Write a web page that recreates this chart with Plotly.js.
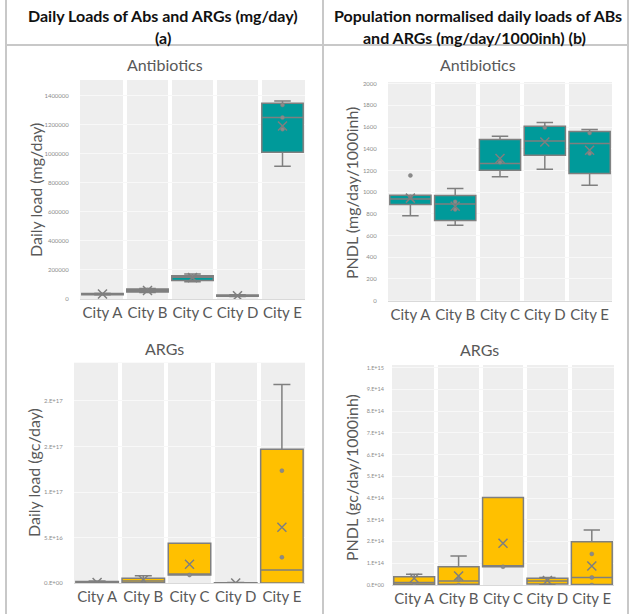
<!DOCTYPE html>
<html>
<head>
<meta charset="utf-8">
<script src="https://cdn.plot.ly/plotly-3.0.1.min.js"></script>
<style>html,body{margin:0;padding:0;background:#fff;}#chart{width:631px;height:614px;}</style>
</head>
<body>
<div id="chart"></div>
<script>
// ---------- data ----------
const cities = ['City A', 'City B', 'City C', 'City D', 'City E'];

// (a) Antibiotics daily load, mg/day
const abDailyQ1     = [30000, 48000, 127000, 19000, 1010000];
const abDailyMedian = [34000, 58000, 150000, 23000, 1249000];
const abDailyQ3     = [38000, 68000, 160000, 28000, 1348000];
const abDailyLow    = [28000, 44000, 119000, 17000, 914000];
const abDailyHigh   = [40000, 72000, 172000, 30000, 1364000];
const abDailyMean   = [35000, 58000, 147000, 23000, 1191000];
const abDailyPtsX   = ['City B', 'City C', 'City E', 'City E', 'City E'];
const abDailyPtsY   = [62000, 153000, 1336000, 1249000, 1169000];

// (b) Antibiotics PNDL, mg/day/1000inh
const abPndlQ1     = [887, 740, 1202, 1340, 1172];
const abPndlMedian = [936, 890, 1264, 1472, 1448];
const abPndlQ3     = [972, 970, 1485, 1607, 1558];
const abPndlLow    = [782, 696, 1141, 1211, 1064];
const abPndlHigh   = [972, 1034, 1515, 1641, 1577];
const abPndlMean   = [945, 871, 1310, 1463, 1386];
const abPndlPtsX   = ['City A', 'City A', 'City B', 'City B', 'City C', 'City D', 'City E', 'City E'];
const abPndlPtsY   = [1154, 957, 911, 841, 1275, 1595, 1545, 1356];

// (a) ARGs daily load, gc/day
const argDailyQ1     = [0.2e15, 0.5e15, 9.1e15, 0.1e15, 0.3e15];
const argDailyMedian = [1.0e15, 2.5e15, 9.1e15, 0.3e15, 14.6e15];
const argDailyQ3     = [2.0e15, 5.5e15, 43.9e15, 0.6e15, 147e15];
const argDailyLow    = [0.2e15, 0.5e15, 9.1e15, 0.1e15, 0.3e15];
const argDailyHigh   = [2.5e15, 8.4e15, 43.9e15, 0.8e15, 218e15];
const argDailyMean   = [0.8e15, 3.7e15, 20.8e15, 0.3e15, 61.4e15];
const argDailyPtsX   = ['City C', 'City E', 'City E'];
const argDailyPtsY   = [9.1e15, 123.6e15, 28.5e15];
const argDailyTickVals = [0, 5e16, 1e17, 1.5e17, 2e17];
const argDailyTickText = ['0.E+00', '5.E+16', '1.E+17', '2.E+17', '2.E+17'];

// (b) ARGs PNDL, gc/day/1000inh
const argPndlQ1     = [0.3e13, 0.3e13, 8.4e13, 0.5e13, 0.2e13];
const argPndlMedian = [1.1e13, 1.8e13, 8.4e13, 1.8e13, 3.5e13];
const argPndlQ3     = [3.8e13, 8.4e13, 40.3e13, 3.1e13, 19.9e13];
const argPndlLow    = [0, 0, 8.4e13, 0.3e13, 0];
const argPndlHigh   = [4.9e13, 13.3e13, 40.3e13, 3.5e13, 25.3e13];
const argPndlMean   = [3.1e13, 4.1e13, 19.2e13, 2.1e13, 8.7e13];
const argPndlPtsX   = ['City A', 'City B', 'City B', 'City C', 'City E', 'City E', 'City E'];
const argPndlPtsY   = [0, 2.6e13, 0, 8.4e13, 14.3e13, 3.5e13, 0];
const argPndlTickVals = [0, 1e14, 2e14, 3e14, 4e14, 5e14, 6e14, 7e14, 8e14, 9e14, 1e15];
const argPndlTickText = ['0.E+00', '1.E+14', '2.E+14', '3.E+14', '4.E+14', '5.E+14', '6.E+14', '7.E+14', '8.E+14', '9.E+14', '1.E+15'];

// ---------- styling ----------
const FONT = 'Lato, "Open Sans", sans-serif';
const TEAL = '#009a9a';
const YELLOW = '#ffc000';
const EDGE = '#7f7f7f';
const W = 631, H = 614;
const px = v => v / W;
const py = v => 1 - v / H;

function boxTrace(ax, q1, med, q3, lo, hi, fill) {
  return {
    type: 'box', x: cities, q1: q1, median: med, q3: q3,
    lowerfence: lo, upperfence: hi, boxpoints: false,
    fillcolor: fill, line: {color: EDGE, width: 1.5},
    width: 0.92, whiskerwidth: 0.4, showlegend: false, hoverinfo: 'skip',
    xaxis: 'x' + ax, yaxis: 'y' + ax
  };
}
function meanTrace(ax, mean) {
  return {
    type: 'scatter', mode: 'markers', x: cities, y: mean,
    marker: {symbol: 'x-thin-open', size: 9, color: EDGE, line: {color: EDGE, width: 1.5}},
    showlegend: false, hoverinfo: 'skip', xaxis: 'x' + ax, yaxis: 'y' + ax
  };
}
function ptsTrace(ax, xs, ys) {
  return {
    type: 'scatter', mode: 'markers', x: xs, y: ys,
    marker: {symbol: 'circle', size: 4, color: '#8a8a8a', line: {color: EDGE, width: 0.5}},
    showlegend: false, hoverinfo: 'skip', xaxis: 'x' + ax, yaxis: 'y' + ax
  };
}

const data = [
  boxTrace('', abDailyQ1, abDailyMedian, abDailyQ3, abDailyLow, abDailyHigh, TEAL),
  ptsTrace('', abDailyPtsX, abDailyPtsY),
  meanTrace('', abDailyMean),
  boxTrace('2', abPndlQ1, abPndlMedian, abPndlQ3, abPndlLow, abPndlHigh, TEAL),
  ptsTrace('2', abPndlPtsX, abPndlPtsY),
  meanTrace('2', abPndlMean),
  boxTrace('3', argDailyQ1, argDailyMedian, argDailyQ3, argDailyLow, argDailyHigh, YELLOW),
  ptsTrace('3', argDailyPtsX, argDailyPtsY),
  meanTrace('3', argDailyMean),
  boxTrace('4', argPndlQ1, argPndlMedian, argPndlQ3, argPndlLow, argPndlHigh, YELLOW),
  ptsTrace('4', argPndlPtsX, argPndlPtsY),
  meanTrace('4', argPndlMean)
];

function xAxis(x0, x1, yAnchor, tl) {
  return {
    domain: [px(x0), px(x1)], anchor: yAnchor, type: 'category',
    range: [-0.5, 4.5], fixedrange: true,
    showgrid: true, tickson: 'boundaries', gridcolor: '#ffffff', gridwidth: 4,
    showline: true, linecolor: '#d9d9d9', linewidth: 1,
    ticks: 'outside', ticklen: tl, tickcolor: 'rgba(0,0,0,0)', tickangle: 0,
    tickfont: {family: FONT, size: 15, color: '#595959'}, zeroline: false
  };
}
function yAxis(y0, y1, xAnchor, range, extra) {
  return Object.assign({
    domain: [py(y1), py(y0)], anchor: xAnchor, range: range, fixedrange: true,
    showgrid: true, gridcolor: '#f8f8f8', gridwidth: 1, zeroline: false,
    showline: false, ticks: 'outside', ticklen: 9, tickcolor: 'rgba(0,0,0,0)',
    tickfont: {family: FONT, size: 6, color: '#8c8c8c'}
  }, extra);
}

const hdrFont = {family: FONT, size: 16, color: '#111111', weight: 'bold'};
const subFont = {family: FONT, size: 16, color: '#595959'};
const axFont  = {family: FONT, size: 16, color: '#595959'};

function ann(text, x, y, font, extra) {
  return Object.assign({text: text, x: px(x), y: py(y), xref: 'paper', yref: 'paper',
    showarrow: false, xanchor: 'center', yanchor: 'middle', font: font}, extra || {});
}

const layout = {
  width: W, height: H,
  margin: {l: 0, r: 0, t: 0, b: 0},
  paper_bgcolor: '#ffffff', plot_bgcolor: '#eeeeee',
  showlegend: false,
  xaxis:  xAxis(80, 305, 'y', 6),
  yaxis:  yAxis(80, 299, 'x', [0, 1508000], {dtick: 200000, tickformat: 'd'}),
  xaxis2: xAxis(388, 612, 'y2', 6),
  yaxis2: yAxis(82, 300.7, 'x2', [0, 2015], {dtick: 200, tickformat: 'd'}),
  xaxis3: xAxis(74, 305, 'y3', 9),
  yaxis3: yAxis(362.7, 583.3, 'x3', [0, 2.42e17], {tickmode: 'array', tickvals: argDailyTickVals, ticktext: argDailyTickText}),
  xaxis4: xAxis(392, 614, 'y4', 9),
  yaxis4: yAxis(365, 585, 'x4', [0, 1.012e15], {tickmode: 'array', tickvals: argPndlTickVals, ticktext: argPndlTickText, ticklen: 6, tickfont: {family: FONT, size: 5.5, color: '#8c8c8c'}}),
  shapes: [
    {type: 'line', xref: 'paper', yref: 'paper', x0: px(6), x1: px(6), y0: py(0), y1: py(614), line: {color: '#c8c8c8', width: 2}},
    {type: 'line', xref: 'paper', yref: 'paper', x0: px(323), x1: px(323), y0: py(0), y1: py(614), line: {color: '#c8c8c8', width: 2}},
    {type: 'line', xref: 'paper', yref: 'paper', x0: px(628), x1: px(628), y0: py(0), y1: py(614), line: {color: '#c8c8c8', width: 2}},
    {type: 'line', xref: 'paper', yref: 'paper', x0: px(6), x1: px(628), y0: py(45), y1: py(45), line: {color: '#c8c8c8', width: 2}}
  ],
  annotations: [
    ann('Daily Loads of Abs and ARGs (mg/day)', 163, 15, hdrFont),
    ann('(a)', 163, 37, hdrFont),
    ann('Population normalised daily loads of ABs', 478, 15, hdrFont),
    ann('and ARGs (mg/day/1000inh) (b)', 474, 37, hdrFont),
    ann('Antibiotics', 165, 64, subFont),
    ann('Antibiotics', 478, 64, subFont),
    ann('ARGs', 164, 348, subFont),
    ann('ARGs', 479, 349, subFont),
    ann('Daily load (mg/day)', 35, 190, axFont, {textangle: -90}),
    ann('PNDL (mg/day/1000inh)', 352, 193, axFont, {textangle: -90}),
    ann('Daily load (gc/day)', 33, 473, axFont, {textangle: -90}),
    ann('PNDL (gc/day/1000inh)', 351, 478, axFont, {textangle: -90})
  ]
};

Plotly.newPlot('chart', data, layout, {displayModeBar: false, staticPlot: true});
</script>
</body>
</html>
